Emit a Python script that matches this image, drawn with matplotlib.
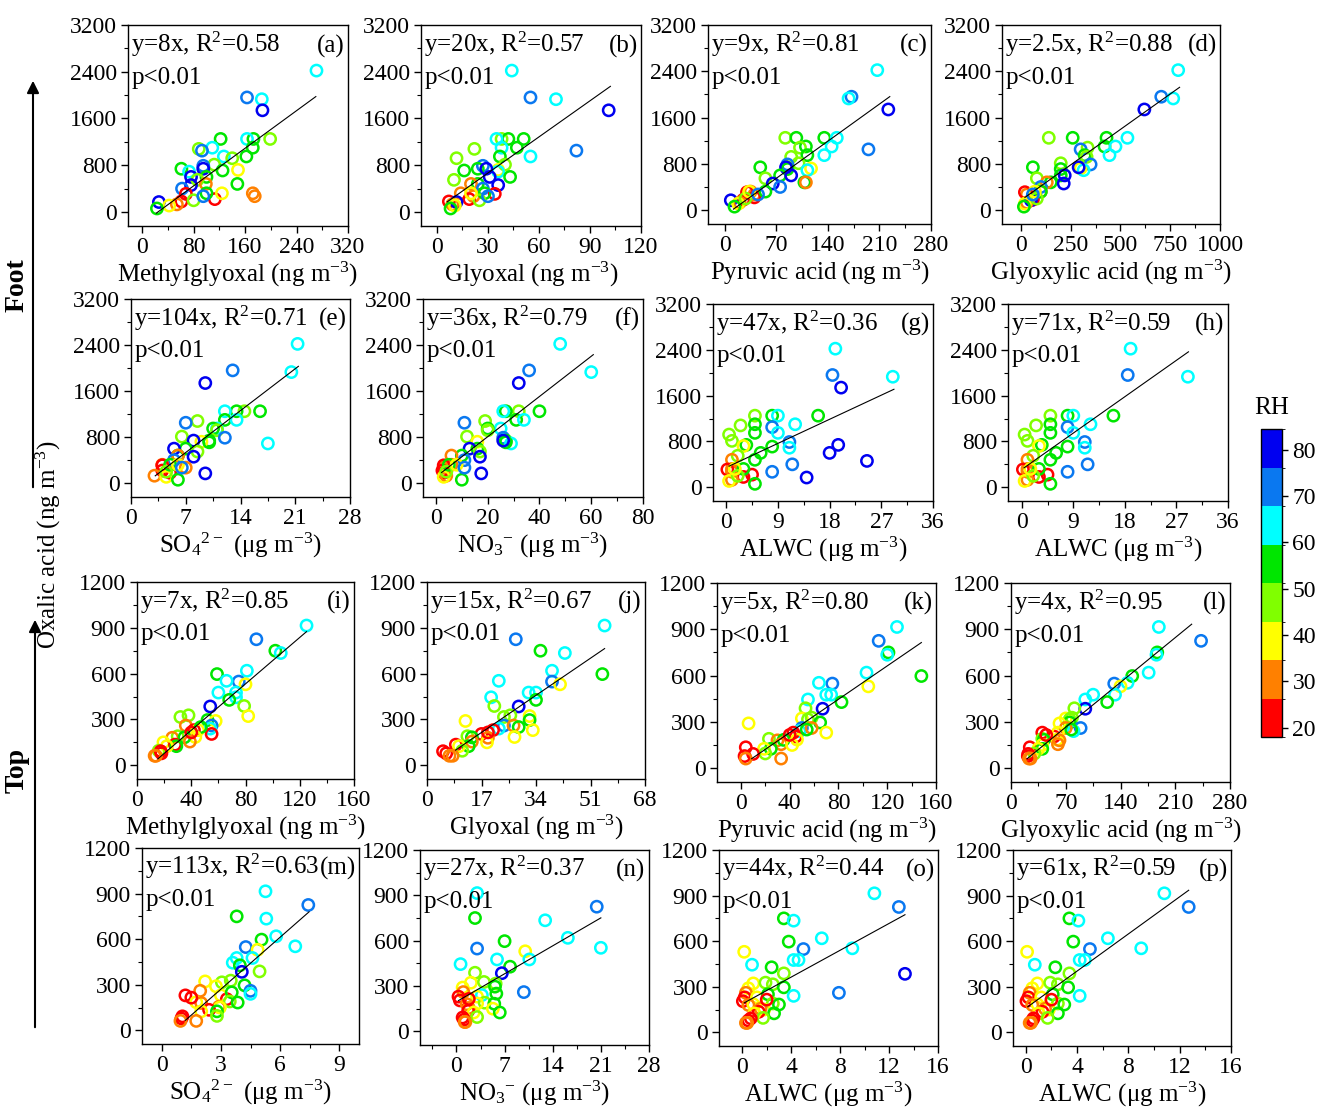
import numpy as np
import matplotlib
matplotlib.use('Agg')
import matplotlib.pyplot as plt
from matplotlib.colors import ListedColormap, BoundaryNorm
from matplotlib.ticker import AutoMinorLocator
import matplotlib.cm as cm

plt.rcParams['font.family'] = ['Liberation Serif', 'DejaVu Serif']
plt.rcParams['mathtext.fontset'] = 'custom'
plt.rcParams['mathtext.rm'] = 'Liberation Serif'

# ---- foot samples (oxalic acid, RH, and the x variable of each panel)
foot_oxalic = [2420, 1960, 1930, 1740, 1250, 1250, 1250, 1250, 1100, 1080, 1100, 1050, 950, 950, 920,
               810, 790, 740, 720, 690, 710, 740, 600, 600, 550, 480, 480, 460, 400, 320, 270, 310,
               220, 180, 170, 130, 110, 60, 320, 200, 320, 270]
foot_rh = [65, 73, 65, 82, 55, 47, 55, 65, 55, 47, 65, 73, 65, 55, 47, 47, 73, 55, 40, 65, 55, 82,
           55, 82, 47, 55, 30, 82, 73, 30, 30, 20, 20, 20, 82, 30, 40, 55, 55, 47, 40, 73]
foot_mgly = [271, 163, 186, 187, 173, 199, 122, 163, 172, 88, 109, 93, 127, 162, 140, 112, 95, 61,
             149, 73, 125, 95, 100, 76, 86, 148, 99, 76, 62, 172, 175, 68, 113, 61, 26, 54, 42, 23,
             100, 80, 124, 95]
foot_gly = [44, 55, 70, 101, 51, 38, 42, 35, 47, 22, 38, 82, 55, 37, 11.5, 40, 27, 24, 36, 36, 16,
            29, 43, 31, 10, 24, 20, 36, 27, 14, 21.5, 34, 19, 7, 11.5, 9, 10.5, 8, 28, 25, 20, 30]
foot_pyr = [207, 172, 168, 222, 135, 82, 97, 152, 110, 102, 145, 195, 135, 112, 90, 100, 85, 48,
            117, 112, 85, 83, 75, 90, 55, 108, 110, 65, 75, 35, 40, 30, 40, 25, 8, 20, 18, 13, 55,
            28, 33, 45]
foot_glyox = [790, 705, 765, 620, 430, 140, 260, 535, 420, 335, 475, 300, 445, 320, 330, 200, 350,
              60, 300, 315, 200, 290, 200, 220, 80, 150, 130, 215, 100, 100, 30, 20, 60, 60, 50, 30,
              20, 15, 100, 80, 70, 60]
foot_so4 = [21.3, 13.0, 20.5, 9.5, 16.5, 14.5, 13.5, 12.0, 12.0, 8.5, 13.5, 7.0, 11.0, 10.5, 11.0,
            6.5, 12.0, 10.0, 9.0, 17.5, 10.0, 8.0, 7.0, 5.5, 8.5, 6.0, 6.0, 8.0, 5.5, 4.0, 7.0, 4.0,
            4.0, 5.0, 9.5, 3.0, 4.5, 6.0, 5.0, 4.5, 6.0, 6.5]
foot_no3 = [48, 36, 60, 32, 40, 32, 27, 26, 31, 19, 34, 11, 25, 20, 20, 12, 26, 27, 16, 29, 27, 26,
            16, 13, 17, 10, 6, 17, 11, 6, 3, 3, 2.5, 3, 17.5, 4, 3, 10, 5, 4, 8, 11]
foot_alwc = [19, 18.5, 29, 20, 16, 5, 8, 9, 5, 2.5, 12, 8, 9, 5, 0.5, 1, 11, 3.5, 3, 11, 8, 19.5, 6,
             18, 2, 5, 1, 24.5, 11.5, 1, 1, 0.2, 4.5, 3, 14, 1, 0.5, 5, 3, 2, 1.5, 8]
foot_alwc_h = [19, 18.5, 29, np.nan, 16, 5, 8, 9, 5, 2.5, 12, 8, 9, 5, 0.5, 1, 11, 3.5, 3, 11, 8,
               np.nan, 6, np.nan, 2, 5, 1, np.nan, 11.5, 1, 1, 0.2, 4.5, 3, np.nan, 1, 0.5, 5, 3, 2,
               1.5, 8]

# ---- top samples
top_oxalic = [915, 825, 750, 735, 597, 619, 548, 553, 530, 476, 476, 445, 428, 385, 388, 322, 316,
              327, 296, 290, 260, 240, 260, 230, 205, 230, 250, 190, 185, 180, 183, 155, 150, 135,
              125, 125, 95, 92, 78, 62, 62, 215]
top_rh = [65, 73, 55, 65, 55, 65, 73, 65, 40, 65, 65, 65, 55, 82, 47, 40, 47, 47, 55, 40, 73, 65, 30,
          20, 20, 40, 55, 47, 40, 30, 55, 30, 40, 20, 55, 40, 47, 20, 20, 30, 30, 20]
top_mgly = [125, 88, 102, 106, 59, 81, 75, 66, 80, 60, 73, 73, 68, 54, 79, 82, 32, 38, 52, 58, 55,
            54, 36, 42, 55, 45, 47, 30, 43, 26, 35, 39, 19.5, 28, 29, 22, 16, 17.5, 18, 13, 14, 40]
top_gly = [55.4, 27.7, 35.4, 43, 54.7, 39, 39, 22.4, 41.5, 31.7, 34, 20, 34, 28.6, 21, 32, 24, 26,
           32, 12, 24, 22.4, 27, 20.6, 17, 33, 28.6, 12.6, 27.3, 19, 14, 14, 18.7, 9, 13, 10, 11, 5,
           6, 7, 8, 19]
top_pyr = [128, 113, 121, 120, 148, 103, 75, 64, 104.5, 74, 70, 55, 82.5, 67, 53, 50, 55, 58, 65,
           6.3, 50, 48, 58, 43, 45, 70, 54, 23, 46, 30, 35, 33, 42, 4, 24.5, 19, 20, 10, 3, 33, 4, 40]
top_glyox = [189, 243, 187, 186, 155, 176, 132, 149, 140, 133, 105, 95, 123, 95, 81, 70, 75, 78, 75,
             62, 89, 80, 70, 40, 55, 60, 77, 40, 59, 62, 42, 60, 40, 24, 40, 35, 30, 22, 21.5, 23,
             25, 45]
top_so4 = [5.26, 7.43, 3.8, 5.3, 5.06, 5.8, 4.26, 6.77, 4.86, 4.6, 3.8, 3.6, 3.96, 4.06, 4.96, 2.2,
           3.05, 3.5, 4.2, 2.75, 4.5, 4.5, 1.95, 1.2, 3.3, 3.0, 3.55, 3.45, 1.75, 2.0, 3.85, 2.9,
           2.95, 2.4, 2.8, 2.0, 2.8, 1.05, 1.0, 1.75, 0.95, 1.5]
top_no3 = [3.0, 20.4, 2.7, 12.9, 7.0, 16.2, 3.0, 21, 10, 10.6, 5.9, 0.6, 7.8, 6.6, 2.7, 2.1, 5.7, 4,
           5.6, 0.9, 9.8, 3.7, 1.0, 0.3, 0.5, 3.0, 5.8, 4.1, 3.0, 1.5, 5.5, 1.8, 5.3, 1.7, 6.3, 2.5,
           3.0, 0.9, 1.1, 1.3, 1.2, 1.8]
top_alwc = [10.8, 12.8, 3.4, 4.2, 3.8, 6.5, 5.0, 9.0, 0.16, 4.6, 4.2, 0.8, 2.4, 13.3, 3.4, 0.9, 2.5,
            1.9, 3.4, 0.5, 7.9, 4.2, 0.3, 0.2, 0.05, 1.2, 2.1, 2.5, 0.9, 0.5, 3.0, 1.5, 1.8, 1.35,
            2.6, 1.0, 1.7, 0.7, 0.5, 0.4, 0.3, 2.0]
top_alwc_p = [10.8, 12.7, 3.4, 4.1, 3.7, 6.4, 5.0, 9.0, 0.1, 4.6, 4.2, 0.7, 2.3, np.nan, 3.4, 0.9,
              2.5, 1.9, 3.3, 0.5, np.nan, 4.2, 0.3, 0.2, 0.05, 1.2, 2.1, 2.5, 0.9, 0.5, 3.0, 1.5,
              1.8, 1.3, 2.5, 1.0, 1.7, 0.6, 0.5, 0.4, 0.3, 2.0]

# ---- regression lines (start x, start y, end x, end y)
fit_x0 = [22, 6, 11.6, 20, 3.1, 2.2, 0.5, 0.4, 15.4, 8.9, 8.8, 20.6, 1.2, 0.3, 0.16, 0.15]
fit_y0 = [-20, 173, 17, 219, 128, 186, 368, 339, 42, 99, 61, 61, 66, 204, 194, 168]
fit_x1 = [270, 102, 224, 797, 21.4, 60.8, 29.2, 29.1, 125, 55.4, 148, 231, 7.47, 21, 13.3, 12.7]
fit_y1 = [1975, 2150, 1962, 2123, 2030, 2233, 1711, 2365, 875, 764, 814, 933, 780, 751, 774, 935]

slopes = ['8', '20', '9', '2.5', '104', '36', '47', '71', '7', '15', '5', '4', '113', '27', '44', '61']
r2 = ['0.58', '0.57', '0.81', '0.88', '0.71', '0.79', '0.36', '0.59',
      '0.85', '0.67', '0.80', '0.95', '0.63', '0.37', '0.44', '0.59']
letters = 'abcdefghijklmnop'

sup3 = r'$\mathregular{^{-3}}$'
ng = ' (ng m' + sup3 + ')'
ug = ' (μg m' + sup3 + ')'
xlabels = ['Methylglyoxal' + ng, 'Glyoxal' + ng, 'Pyruvic acid' + ng, 'Glyoxylic acid' + ng,
           r'SO$\mathregular{_4}$$\mathregular{^{2-}}$' + ug, r'NO$\mathregular{_3}$$\mathregular{^{-}}$' + ug,
           'ALWC' + ug, 'ALWC' + ug] * 2

panel_x = [foot_mgly, foot_gly, foot_pyr, foot_glyox, foot_so4, foot_no3, foot_alwc, foot_alwc_h,
           top_mgly, top_gly, top_pyr, top_glyox, top_so4, top_no3, top_alwc, top_alwc_p]

xlims = [(-22, 320), (-9.4, 120), (-23, 280), (-95, 1000), (0, 28), (-5, 80), (-2.3, 36), (-2.4, 36),
         (0, 160), (0, 68), (-19.6, 160), (0, 280), (-1, 10), (-5.3, 28), (-1.9, 16), (-1, 16)]
xsteps = [80, 30, 70, 250, 7, 20, 9, 9, 40, 17, 40, 70, 3, 7, 4, 4]
xmax_tick = [320, 120, 280, 1000, 28, 80, 36, 36, 160, 68, 160, 280, 9, 28, 16, 16]

# axes boxes in pixels: left, right, top, bottom
boxes = [(128, 348, 25, 226), (421, 641, 25, 226), (708, 931, 25, 224), (1002, 1220, 25, 224),
         (131, 350, 299, 497), (423, 643, 299, 497), (713, 933, 304, 501), (1008, 1228, 304, 501),
         (137, 354, 582, 779), (427, 645, 582, 779), (717, 936, 583, 782), (1011, 1230, 583, 782),
         (142, 359, 848, 1044), (420, 649, 850, 1045), (719, 938, 850, 1046), (1013, 1231, 850, 1046)]

W, H = 1320, 1120
rh_colors = ['#ff0000', '#ff8000', '#ffff00', '#80ff00', '#00e600', '#00ffff', '#0a78f0', '#0000f0']
rh_edges = np.linspace(18, 84.5, 9)
cmap = ListedColormap(rh_colors)
norm = BoundaryNorm(rh_edges, cmap.N)

FS_TICK = 17
FS = 18

fig = plt.figure(figsize=(W / 100, H / 100), dpi=100)

for k in range(16):
    l, r, t, b = boxes[k]
    ax = fig.add_axes([l / W, 1 - b / H, (r - l) / W, (b - t) / H])
    foot = k < 8
    yv = np.array(foot_oxalic if foot else top_oxalic, dtype=float)
    rh = np.array(foot_rh if foot else top_rh, dtype=float)
    xv = np.array(panel_x[k], dtype=float)
    ok = ~np.isnan(xv)
    ax.scatter(xv[ok], yv[ok], s=66, facecolors='none', edgecolors=cmap(norm(rh[ok])),
               linewidths=1.8, zorder=3)
    ax.plot([fit_x0[k], fit_x1[k]], [fit_y0[k], fit_y1[k]], color='k', lw=0.8, zorder=4)

    if foot:
        ax.set_ylim(-240, 3200)
        ax.set_yticks(np.arange(0, 3201, 800))
    else:
        ax.set_ylim(-90, 1200)
        ax.set_yticks(np.arange(0, 1201, 300))
    ax.set_xlim(*xlims[k])
    ax.set_xticks(np.arange(0, xmax_tick[k] + 0.1, xsteps[k]))
    ax.xaxis.set_minor_locator(AutoMinorLocator(2))
    ax.yaxis.set_minor_locator(AutoMinorLocator(2))
    ax.tick_params(which='major', direction='out', length=5, width=1, labelsize=FS_TICK, pad=3)
    ax.tick_params(which='minor', direction='out', length=3, width=0.8)
    for s in ax.spines.values():
        s.set_linewidth(1)
    ax.set_xlabel(xlabels[k], fontsize=FS, labelpad=1)

    ax.text(0.015, 0.865, 'y=%sx, R$\\mathregular{^2}$=%s' % (slopes[k], r2[k]),
            transform=ax.transAxes, fontsize=FS, va='baseline', ha='left')
    ax.text(0.015, 0.705, 'p<0.01', transform=ax.transAxes, fontsize=FS, va='baseline', ha='left')
    ax.text(0.985, 0.865, '(%s)' % letters[k], transform=ax.transAxes, fontsize=FS,
            va='baseline', ha='right')

# colour bar for RH
cax = fig.add_axes([1261 / W, 1 - 737 / H, 21 / W, 308 / H])
sm = cm.ScalarMappable(cmap=cmap, norm=norm)
cb = fig.colorbar(sm, cax=cax, boundaries=rh_edges, ticks=[20, 30, 40, 50, 60, 70, 80])
cb.ax.tick_params(labelsize=FS_TICK, length=4, width=1)
cb.outline.set_linewidth(1)
fig.text(1272 / W, 1 - 408 / H, 'RH', fontsize=FS, ha='center', va='center')

# left side labels and arrows
fig.text(48 / W, 1 - 545 / H, 'Oxalic acid (ng m' + sup3 + ')', fontsize=FS, rotation=90,
         ha='center', va='center')
fig.text(17 / W, 1 - 285 / H, 'Foot', fontsize=20, fontweight='bold', rotation=90,
         ha='center', va='center')
fig.text(17 / W, 1 - 770 / H, 'Top', fontsize=20, fontweight='bold', rotation=90,
         ha='center', va='center')
for x_arr, y_from, y_to in [(33, 490, 78), (35, 1030, 617)]:
    fig.add_artist(matplotlib.patches.FancyArrowPatch(
        (x_arr / W, 1 - y_from / H), (x_arr / W, 1 - y_to / H), transform=fig.transFigure,
        arrowstyle='-|>', mutation_scale=18, lw=1.5, color='k'))

fig.savefig('out.png', dpi=100)
